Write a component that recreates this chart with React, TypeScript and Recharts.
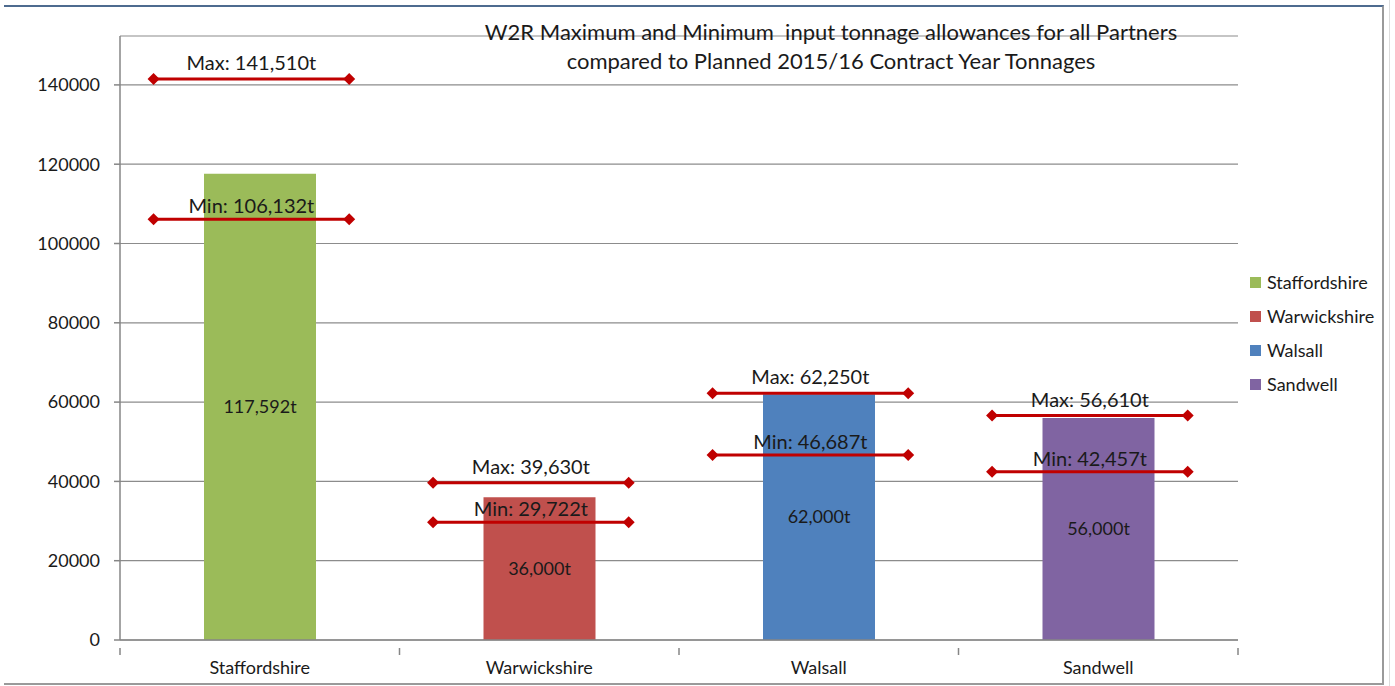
import React from 'react';
import { ComposedChart, Bar, Line, XAxis, YAxis, CartesianGrid, Cell, LabelList, Legend } from 'recharts';

const categories = ['Staffordshire', 'Warwickshire', 'Walsall', 'Sandwell'];
const planned = [117592, 36000, 62000, 56000];
const maxAllowance = [141510, 39630, 62250, 56610];
const minAllowance = [106132, 29722, 46687, 42457];
const colors = ['#9bbb59', '#c0504d', '#4f81bd', '#8064a2'];
const yTicks = [0, 20000, 40000, 60000, 80000, 100000, 120000, 140000];
const titleLines = [
  'W2R Maximum and Minimum  input tonnage allowances for all Partners',
  'compared to Planned 2015/16 Contract Year Tonnages',
];

const FONT = 'Lato, "Liberation Sans", sans-serif';
const fmt = (v: number) => v.toString().replace(/\B(?=(\d{3})+(?!\d))/g, ',');

const barData = categories.map((name, i) => ({ name, value: planned[i] }));

const SEG_L = 0.12;
const SEG_R = 0.82;

function segData(values: number[], prefix: string) {
  const out: any[] = [];
  values.forEach((v, i) => {
    out.push({ x: i + SEG_L, y: v, kind: 'end' });
    out.push({ x: i + (SEG_L + SEG_R) / 2, y: v, kind: 'mid', text: `${prefix}: ${fmt(v)}t`, up: prefix === 'Max' ? 9 : 6 });
    out.push({ x: i + SEG_R, y: v, kind: 'end' });
    out.push({ x: i + 0.95, y: null, kind: 'gap' });
  });
  return out;
}
const maxData = segData(maxAllowance, 'Max');
const minData = segData(minAllowance, 'Min');

const renderDot = (props: any) => {
  const { cx, cy, payload, index } = props;
  if (payload == null || cx == null || cy == null || payload.y == null) return <g key={`e-${index}`} />;
  if (payload.kind === 'end') {
    const s = 6;
    return (
      <path key={`d-${index}`} d={`M${cx - s},${cy} L${cx},${cy - s} L${cx + s},${cy} L${cx},${cy + s} Z`} fill="#c00000" />
    );
  }
  if (payload.kind === 'mid') {
    return (
      <text key={`t-${index}`} x={cx} y={cy - payload.up} textAnchor="middle" fontFamily={FONT} fontSize={20} fill="#1a1a1a">
        {payload.text}
      </text>
    );
  }
  return <g key={`g-${index}`} />;
};

const numTicks = [0, 0.5, 1, 1.5, 2, 2.5, 3, 3.5, 4];

const NumTick = (props: any) => {
  const { x, y, payload } = props;
  const v = payload.value;
  if (Number.isInteger(v)) {
    return <line x1={x} x2={x} y1={y} y2={y + 7} stroke="#868686" strokeWidth={1.5} />;
  }
  return (
    <text x={x} y={y + 26} textAnchor="middle" fontFamily={FONT} fontSize={18} fill="#1a1a1a">
      {categories[Math.floor(v)]}
    </text>
  );
};

const LegendContent = () => (
  <div style={{ fontFamily: FONT, fontSize: 18, color: '#1a1a1a' }}>
    {categories.map((c, i) => (
      <div key={c} style={{ display: 'flex', alignItems: 'center', height: 34 }}>
        <div style={{ width: 11, height: 11, background: colors[i], marginRight: 6 }} />
        <span>{c}</span>
      </div>
    ))}
  </div>
);

export default function App() {
  return (
    <div style={{ position: 'absolute', left: 0, top: 0, width: 1395, height: 686, background: '#fff', overflow: 'hidden' }}>
      <div style={{ position: 'absolute', left: 1389, top: 0, width: 1, height: 686, background: '#dcdcdc' }} />
      <div
        style={{
          position: 'absolute',
          left: 4,
          top: 5,
          width: 1378,
          height: 676,
          borderTop: '2px solid #4e6b8f',
          borderRight: '2px solid #9a9a9a',
          borderBottom: '2px solid #9a9a9a',
        }}
      />
      <div style={{ position: 'absolute', left: 0, top: 0 }}>
        <ComposedChart width={1395} height={686} data={barData} margin={{ top: 36, right: 157, bottom: 0, left: 0 }}>
          <CartesianGrid vertical={false} stroke="#8c8c8c" strokeWidth={1.2} yAxisId="y" xAxisId="cat" />
          <XAxis xAxisId="cat" dataKey="name" type="category" hide height={0} />
          <XAxis
            xAxisId="num"
            dataKey="x"
            type="number"
            domain={[0, 4]}
            ticks={numTicks}
            allowDataOverflow
            height={46}
            tickLine={false}
            tick={<NumTick />}
            interval={0}
            axisLine={{ stroke: '#868686', strokeWidth: 1.5 }}
          />
          <YAxis
            yAxisId="y"
            type="number"
            domain={[0, 152333]}
            ticks={yTicks}
            allowDataOverflow
            width={120}
            tickSize={6}
            tickMargin={14}
            interval={0}
            axisLine={{ stroke: '#868686', strokeWidth: 1.5 }}
            tickLine={{ stroke: '#868686', strokeWidth: 1.5 }}
            tick={{ fontFamily: FONT, fontSize: 18, fill: '#1a1a1a' }}
          />
          <Bar xAxisId="cat" yAxisId="y" dataKey="value" barSize={112} isAnimationActive={false}>
            {barData.map((d, i) => (
              <Cell key={d.name} fill={colors[i]} />
            ))}
            <LabelList
              dataKey="value"
              position="center"
              formatter={(v: any) => `${fmt(Number(v))}t`}
              style={{ fontFamily: FONT, fontSize: 18, fill: '#1a1a1a' }}
            />
          </Bar>
          <Line
            xAxisId="num"
            yAxisId="y"
            data={maxData}
            dataKey="y"
            stroke="#c00000"
            strokeWidth={3}
            dot={renderDot}
            activeDot={false}
            connectNulls={false}
            isAnimationActive={false}
            legendType="none"
          />
          <Line
            xAxisId="num"
            yAxisId="y"
            data={minData}
            dataKey="y"
            stroke="#c00000"
            strokeWidth={3}
            dot={renderDot}
            activeDot={false}
            connectNulls={false}
            isAnimationActive={false}
            legendType="none"
          />
          <Legend
            layout="horizontal"
            align="center"
            verticalAlign="middle"
            content={<LegendContent />}
            wrapperStyle={{ left: 1250, top: 265, width: 145, height: 140 }}
          />
        </ComposedChart>
      </div>
      <div
        style={{
          position: 'absolute',
          left: 331,
          top: 17,
          width: 1000,
          textAlign: 'center',
          fontFamily: FONT,
          fontSize: 22,
          lineHeight: '29px',
          color: '#1a1a1a',
        }}
      >
        {titleLines.map((t) => (
          <div key={t} style={{ whiteSpace: 'pre' }}>{t}</div>
        ))}
      </div>
    </div>
  );
}
